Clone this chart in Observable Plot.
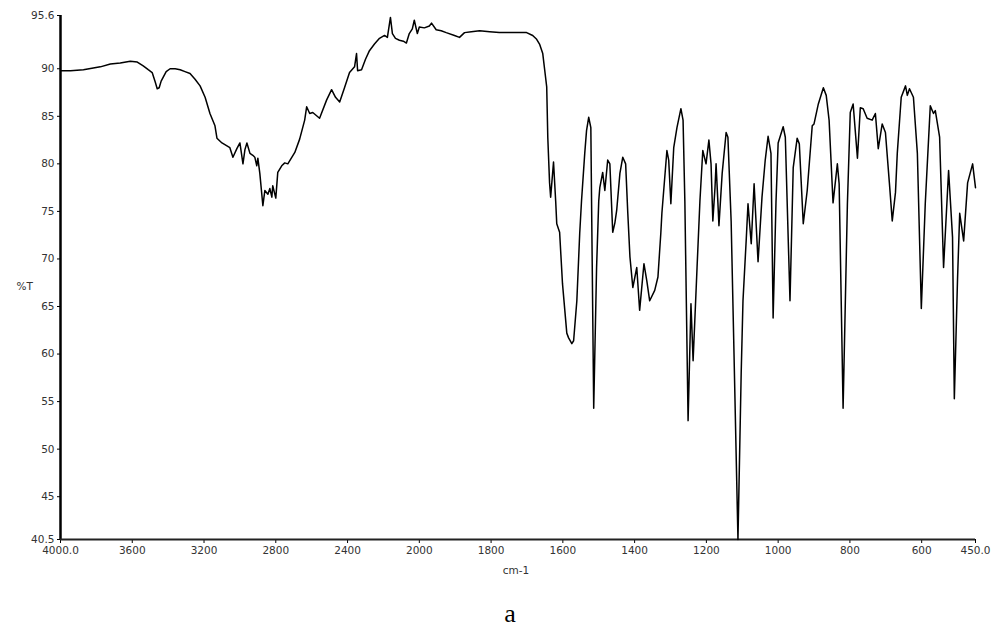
<!DOCTYPE html>
<html>
<head>
<meta charset="utf-8">
<script src="https://cdn.jsdelivr.net/npm/d3@7"></script>
<script src="https://cdn.jsdelivr.net/npm/@observablehq/plot@0.6"></script>
<style>
  body { margin: 0; background: #fff; }
  #wrap { position: relative; width: 1000px; height: 640px; }
  #caption { position: absolute; top: 601px; left: 0; width: 1020px; text-align: center;
    font-family: "Liberation Serif", "DejaVu Serif", serif; font-size: 26px; line-height: 26px; color: #000; }
</style>
</head>
<body>
<div id="wrap"><div id="chart"></div><div id="caption">a</div></div>
<script>
// wavenumber (cm-1)
const wavenumber = [
  4000,3944,3872,3778,3722,3667,3611,3572,3539,3511,3489,3472,3461,3450,3439,3428,3411,3389,3361,3333,
  3306,3278,3250,3222,3194,3167,3139,3128,3100,3056,3039,3017,3000,2983,2972,2961,2944,2928,2917,2906,
  2900,2889,2872,2861,2844,2833,2822,2817,2800,2789,2767,2750,2733,2694,2667,2639,2628,2611,2594,2556,
  2517,2489,2467,2444,2417,2389,2361,2350,2344,2322,2300,2278,2250,2222,2194,2178,2161,2150,2133,2111,
  2089,2072,2056,2039,2028,2011,2000,1986,1972,1966,1953,1939,1925,1902,1888,1874,1855,1832,1804,1777,
  1735,1701,1684,1673,1665,1656,1651,1645,1642,1637,1634,1626,1620,1617,1609,1601,1589,1584,1575,1570,
  1561,1553,1548,1539,1534,1528,1522,1520,1514,1506,1500,1497,1489,1483,1475,1469,1461,1455,1450,1441,
  1433,1425,1419,1413,1405,1394,1386,1374,1366,1358,1344,1335,1327,1324,1310,1305,1299,1291,1282,1271,
  1265,1260,1251,1243,1237,1226,1218,1210,1201,1193,1187,1182,1176,1173,1168,1165,1156,1145,1140,1131,
  1123,1112,1103,1098,1089,1084,1075,1067,1056,1045,1036,1028,1020,1014,1006,1000,986,980,967,958,
  947,941,930,919,905,900,888,874,866,858,847,835,830,819,807,799,791,779,771,763,
  752,738,729,721,710,701,690,682,673,668,657,645,640,634,623,612,601,590,576,567,
  562,550,539,525,514,509,500,494,483,472,458,450
];
// transmittance (%T)
const transmittance = [
  89.8,89.8,89.9,90.2,90.5,90.6,90.8,90.7,90.3,89.9,89.6,88.6,87.9,88.0,88.7,89.1,89.7,90.0,90.0,89.9,
  89.7,89.5,88.9,88.2,87.0,85.3,84.0,82.7,82.2,81.7,80.7,81.6,82.2,80.0,81.5,82.2,81.1,80.9,80.7,79.8,
  80.6,79.0,75.6,77.2,76.8,77.4,76.5,77.7,76.4,79.1,79.8,80.1,80.0,81.2,82.6,84.6,86.0,85.3,85.4,84.8,
  86.7,87.8,87.0,86.5,88.0,89.6,90.2,91.6,89.8,89.9,91.0,91.9,92.6,93.2,93.5,93.3,95.4,93.7,93.2,93.0,
  92.9,92.7,93.7,94.2,95.1,93.7,94.4,94.3,94.5,94.8,94.1,94.0,93.8,93.5,93.3,93.8,93.9,94.0,93.9,93.8,
  93.8,93.8,93.5,93.1,92.6,91.6,90.0,88.1,82.8,78.0,76.5,80.2,76.1,73.7,72.8,67.4,62.2,61.7,61.1,61.4,
  65.6,72.7,76.1,81.1,83.5,84.9,83.8,76.1,54.3,69.1,76.1,77.5,79.1,77.2,80.4,80.0,72.8,73.8,75.1,79.0,
  80.7,80.0,74.8,70.2,67.0,69.1,64.6,69.5,67.7,65.6,66.7,68.1,72.7,74.8,81.4,80.4,75.8,81.7,83.8,85.8,
  84.6,76.1,53.0,65.3,59.3,69.1,76.1,81.4,80.0,82.5,80.0,74.0,77.5,80.0,76.0,73.5,79.0,83.3,82.8,74.0,
  60.0,40.5,58.0,65.6,72.0,75.8,71.6,77.9,69.7,76.5,80.4,82.9,81.1,63.8,76.0,82.2,83.9,82.8,65.6,79.6,
  82.7,82.1,73.7,77.2,84.0,84.2,86.3,88.0,87.2,84.6,75.9,80.0,77.9,54.3,75.8,85.4,86.3,80.6,85.9,85.8,
  84.8,84.6,85.3,81.6,84.2,83.3,78.0,74.0,77.0,81.1,87.0,88.2,87.2,87.9,87.0,81.1,64.8,75.8,86.1,85.3,
  85.6,82.8,69.1,79.3,72.3,55.3,68.0,74.8,71.9,78.0,80.0,77.5
];
const xTicks = [4000,3600,3200,2800,2400,2000,1800,1600,1400,1200,1000,800,600,450];
const yTicks = [40.5,45,50,55,60,65,70,75,80,85,90,95.6];
const xLabel = "cm-1";
const yLabel = "%T";

// axis break: the 4000-2000 range is drawn at half the scale of 2000-450
const toU = w => (w <= 2000 ? w : 2000 + (w - 2000) / 2);
const fromU = u => (u <= 2000 ? u : 2000 + (u - 2000) * 2);

const data = wavenumber.map((w, i) => ({u: toU(w), t: transmittance[i]}));
const fmt = u => {
  const v = Math.round(fromU(u));
  return (v === 4000 || v === 450) ? v.toFixed(1) : String(v);
};

const chart = Plot.plot({
  width: 1000,
  height: 590,
  marginLeft: 60,
  marginRight: 25,
  marginTop: 15,
  marginBottom: 51,
  style: {fontFamily: "'DejaVu Sans', sans-serif", fontSize: "10.5px", color: "#333", background: "#fff"},
  x: {domain: [toU(4000), toU(450)]},
  y: {domain: [40.5, 95.6]},
  marks: [
    Plot.axisX({ticks: xTicks.map(toU), tickFormat: fmt, tickSize: 4, tickPadding: 3, label: null, stroke: "#000"}),
    Plot.axisY({ticks: yTicks, tickFormat: d => String(d), tickSize: 3, tickPadding: 3, label: null, stroke: "#000"}),
    Plot.ruleX([toU(4000)], {stroke: "#000", strokeWidth: 2.5}),
    Plot.ruleY([40.5], {stroke: "#222", strokeWidth: 2}),
    Plot.line(data, {x: "u", y: "t", stroke: "#000", strokeWidth: 1.5}),
    Plot.text([yLabel], {frameAnchor: "left", dx: -44, dy: 9, text: d => d, fill: "#333"}),
    Plot.text([xLabel], {frameAnchor: "bottom", dx: -2, dy: 34, text: d => d, fill: "#333"})
  ]
});
document.getElementById("chart").appendChild(chart);
</script>
</body>
</html>
